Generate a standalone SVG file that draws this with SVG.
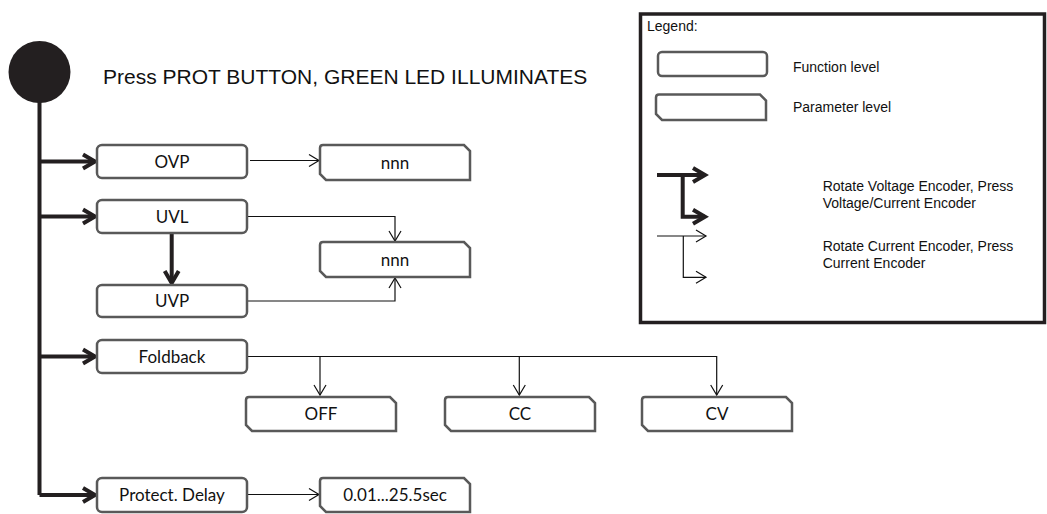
<svg xmlns="http://www.w3.org/2000/svg" width="1047" height="514" viewBox="0 0 1047 514">
<style>
.fn{fill:#fff;stroke:#595959;stroke-width:2.5}
.pm{fill:#fff;stroke:#595959;stroke-width:2.5;stroke-linejoin:miter}
.bt{font-family:Lato,"Liberation Sans",sans-serif;font-size:17px;fill:#111;text-anchor:middle}
.lg{font-family:"Liberation Sans",Arial,sans-serif;font-size:14px;fill:#111}
.thick{fill:none;stroke:#231f20;stroke-width:4}
.thin{fill:none;stroke:#111;stroke-width:1.2}
</style>
<defs>
<marker id="ah" markerUnits="userSpaceOnUse" markerWidth="14" markerHeight="16" viewBox="-12 -8 14 16" refX="0" refY="0" orient="auto">
<path d="M-10,-6 L0,0 L-10,6" fill="none" stroke="#111" stroke-width="1.2"/>
</marker>
<marker id="ahT" markerUnits="userSpaceOnUse" markerWidth="20" markerHeight="20" viewBox="-16 -10 20 20" refX="0" refY="0" orient="auto">
<path d="M-12,-7 L0,0 L-12,7" fill="none" stroke="#231f20" stroke-width="4"/>
</marker>
</defs>

<g id="start">
<circle cx="39.5" cy="72" r="31" fill="#231f20"/>
</g>
<g id="title">
<text x="103" y="84" font-family="Liberation Sans,Arial,sans-serif" font-size="21" fill="#111">Press PROT BUTTON, GREEN LED ILLUMINATES</text>
</g>

<g id="connectors">
<path class="thick" d="M39.5,100 V495"/>
<path class="thick" d="M39.5,161.5 H95" marker-end="url(#ahT)"/>
<path class="thick" d="M39.5,216.5 H95" marker-end="url(#ahT)"/>
<path class="thick" d="M39.5,356.5 H95" marker-end="url(#ahT)"/>
<path class="thick" d="M39.5,495 H95" marker-end="url(#ahT)"/>
<path class="thick" d="M171.7,233 V283" marker-end="url(#ahT)"/>
<path class="thin" d="M250,160.5 H319" marker-end="url(#ah)"/>
<path class="thin" d="M248,216.5 H395 V241" marker-end="url(#ah)"/>
<path class="thin" d="M248,301 H395 V278" marker-end="url(#ah)"/>
<path class="thin" d="M248,356.5 H716.7 V395" marker-end="url(#ah)"/>
<path class="thin" d="M320,356.5 V395" marker-end="url(#ah)"/>
<path class="thin" d="M519.3,356.5 V395" marker-end="url(#ah)"/>
<path class="thin" d="M248,494.5 H319" marker-end="url(#ah)"/>
</g>

<g id="ovp"><rect class="fn" x="97" y="145" width="150" height="33" rx="5"/><text class="bt" x="172" y="167.5">OVP</text></g>
<g id="uvl"><rect class="fn" x="97" y="200" width="150" height="33" rx="5"/><text class="bt" x="172" y="222.5">UVL</text></g>
<g id="uvp"><rect class="fn" x="97" y="285" width="150" height="32" rx="5"/><text class="bt" x="172" y="307">UVP</text></g>
<g id="foldback"><rect class="fn" x="97" y="340" width="150" height="33" rx="5"/><text class="bt" x="172" y="362.5">Foldback</text></g>
<g id="protect-delay"><rect class="fn" x="97" y="478" width="150" height="34" rx="5"/><text class="bt" x="172" y="501">Protect. Delay</text></g>

<g id="ovp-nnn"><path class="pm" d="M323,145 H464 L470,151 V180 H326 L320,174 V148 Q320,145 323,145 Z"/><text class="bt" x="395" y="168.5">nnn</text></g>
<g id="uv-nnn"><path class="pm" d="M323,242 H464 L470,248 V277 H326 L320,271 V245 Q320,242 323,242 Z"/><text class="bt" x="395" y="265.5">nnn</text></g>
<g id="off"><path class="pm" d="M249,397 H390 L396,403 V431 H252 L246,425 V400 Q246,397 249,397 Z"/><text class="bt" x="321" y="420">OFF</text></g>
<g id="cc"><path class="pm" d="M448,397 H589 L595,403 V431 H451 L445,425 V400 Q445,397 448,397 Z"/><text class="bt" x="520" y="420">CC</text></g>
<g id="cv"><path class="pm" d="M645,397 H786 L792,403 V431 H648 L642,425 V400 Q642,397 645,397 Z"/><text class="bt" x="717" y="420">CV</text></g>
<g id="delay-value"><path class="pm" d="M323,478 H464 L470,484 V512 H326 L320,506 V481 Q320,478 323,478 Z"/><text class="bt" x="395" y="501">0.01...25.5sec</text></g>

<g id="legend">
<rect x="640.5" y="14" width="404" height="308.5" fill="none" stroke="#231f20" stroke-width="3.5"/>
<text class="lg" x="647" y="31">Legend:</text>
<rect class="fn" x="658" y="52" width="109" height="24" rx="4"/>
<text class="lg" x="793" y="71.5">Function level</text>
<path class="pm" d="M659,94.5 H760 L766,100.5 V120 H662 L656,114 V97.5 Q656,94.5 659,94.5 Z"/>
<text class="lg" x="793" y="111.5">Parameter level</text>
<path class="thick" d="M657,175 H705" marker-end="url(#ahT)"/>
<path class="thick" d="M682.7,175 V216.7 H705" marker-end="url(#ahT)"/>
<text class="lg" x="822.7" y="190.5">Rotate Voltage Encoder, Press</text>
<text class="lg" x="822.7" y="208">Voltage/Current Encoder</text>
<path class="thin" d="M657,236 H706" marker-end="url(#ah)"/>
<path class="thin" d="M683.3,236 V277.3 H706" marker-end="url(#ah)"/>
<text class="lg" x="822.7" y="250.5">Rotate Current Encoder, Press</text>
<text class="lg" x="822.7" y="268">Current Encoder</text>
</g>
</svg>
